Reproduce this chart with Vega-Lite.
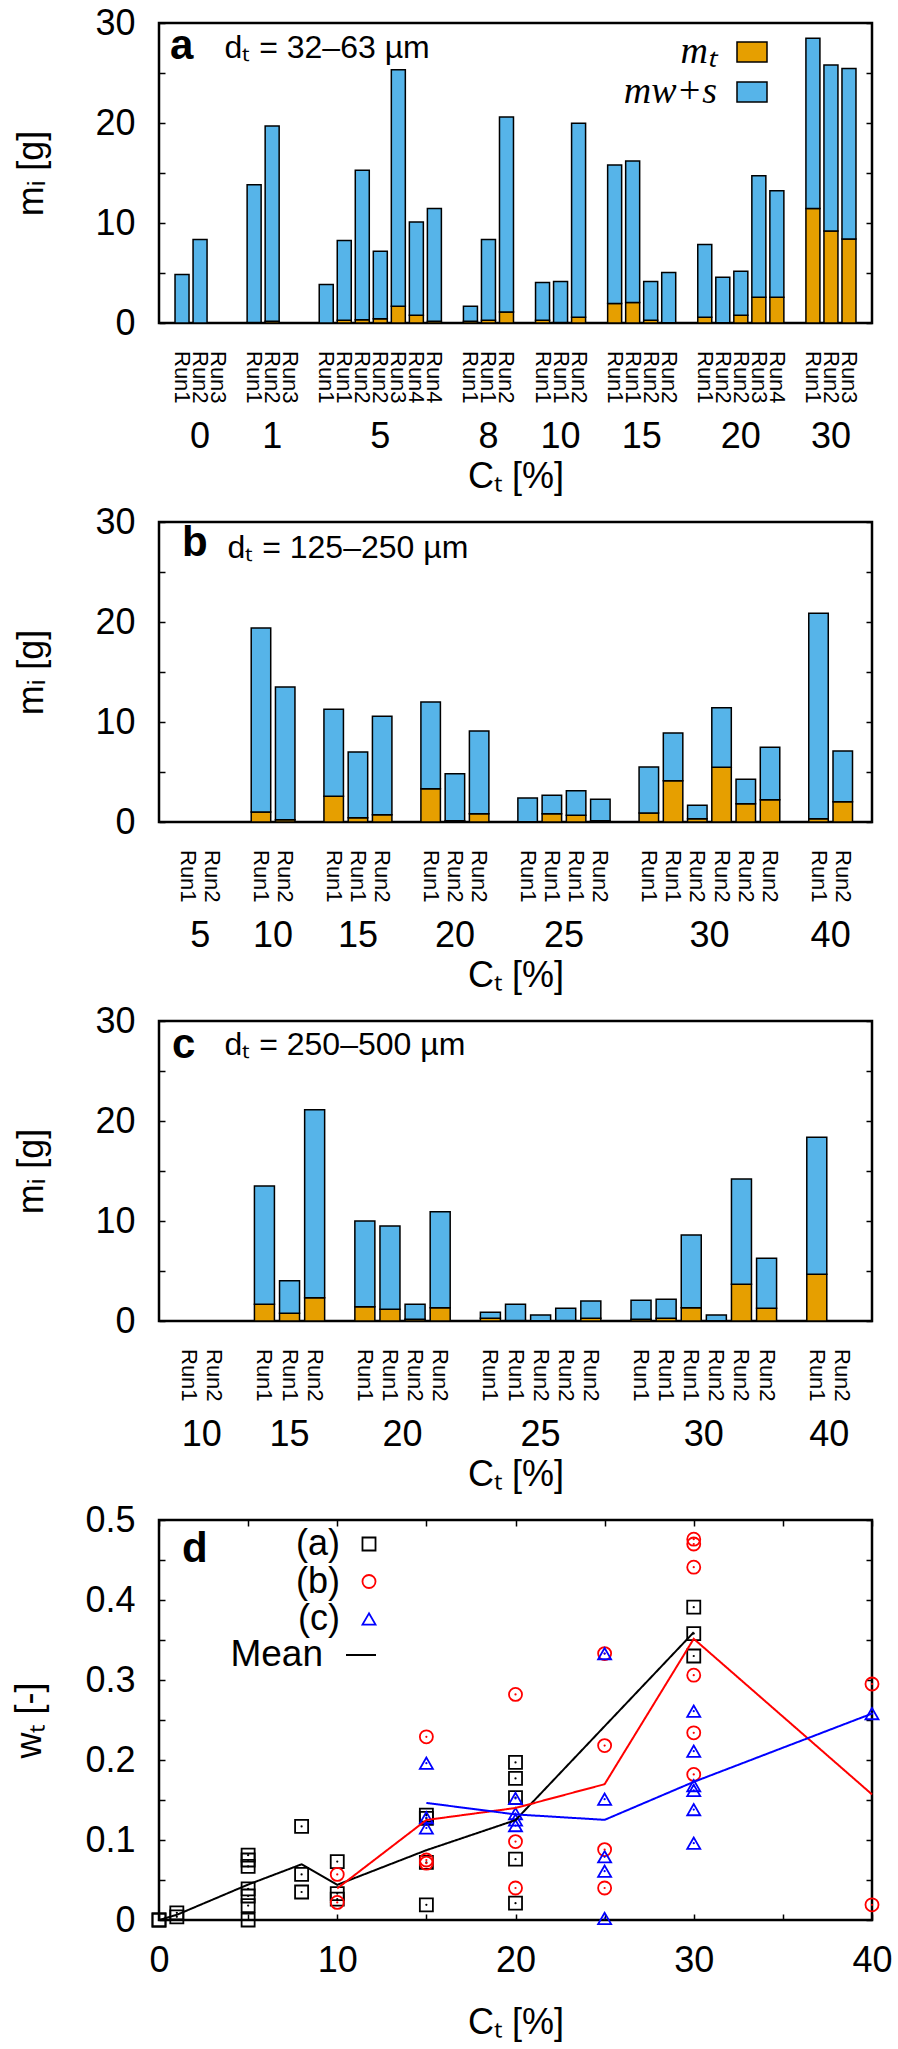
{
  "$schema": "https://vega.github.io/schema/vega-lite/v6.json",
  "background": "white",
  "padding": {"left": 10, "top": 3, "right": 2, "bottom": 5},
  "bounds": "flush",
  "spacing": 199,
  "resolve": {"scale": {"color": "independent", "shape": "independent", "strokeDash": "independent"}},
  "config": {
    "font": "Liberation Sans",
    "view": {"stroke": "black", "strokeWidth": 2.5},
    "axis": {"labelFont": "Liberation Sans", "titleFont": "Liberation Sans", "labelFontSize": 36, "titleFontSize": 36, "titleFontWeight": "normal", "labelColor": "black", "titleColor": "black", "tickColor": "black", "tickWidth": 1.5, "grid": false, "domain": false, "labelFlush": false, "labelOverlap": false, "labelBound": false},
    "text": {"font": "Liberation Sans", "color": "black"},
    "legend": {"labelColor": "black", "padding": 0, "titlePadding": 0},
    "title": {"color": "black", "font": "Liberation Sans"}
  },
  "datasets": {
    "bars": [
      {"panel":"a","group":"0","run":"Run1","slot":0,"mt":0,"mws":4.85},
      {"panel":"a","group":"0","run":"Run2","slot":1,"mt":0,"mws":8.35},
      {"panel":"a","group":"0","run":"Run3","slot":2,"mt":null,"mws":null},
      {"panel":"a","group":"1","run":"Run1","slot":4,"mt":0.05,"mws":13.78},
      {"panel":"a","group":"1","run":"Run2","slot":5,"mt":0.17,"mws":19.54},
      {"panel":"a","group":"1","run":"Run3","slot":6,"mt":null,"mws":null},
      {"panel":"a","group":"5","run":"Run1","slot":8,"mt":0,"mws":3.84},
      {"panel":"a","group":"5","run":"Run1","slot":9,"mt":0.27,"mws":7.98},
      {"panel":"a","group":"5","run":"Run2","slot":10,"mt":0.33,"mws":14.94},
      {"panel":"a","group":"5","run":"Run2","slot":11,"mt":0.43,"mws":6.75},
      {"panel":"a","group":"5","run":"Run3","slot":12,"mt":1.67,"mws":23.66},
      {"panel":"a","group":"5","run":"Run4","slot":13,"mt":0.77,"mws":9.32},
      {"panel":"a","group":"5","run":"Run4","slot":14,"mt":0.17,"mws":11.29},
      {"panel":"a","group":"8","run":"Run1","slot":16,"mt":0.17,"mws":1.5},
      {"panel":"a","group":"8","run":"Run1","slot":17,"mt":0.27,"mws":8.08},
      {"panel":"a","group":"8","run":"Run2","slot":18,"mt":1.1,"mws":19.51},
      {"panel":"a","group":"10","run":"Run1","slot":20,"mt":0.27,"mws":3.77},
      {"panel":"a","group":"10","run":"Run1","slot":21,"mt":0.05,"mws":4.09},
      {"panel":"a","group":"10","run":"Run2","slot":22,"mt":0.57,"mws":19.41},
      {"panel":"a","group":"15","run":"Run1","slot":24,"mt":1.94,"mws":13.86},
      {"panel":"a","group":"15","run":"Run1","slot":25,"mt":2.04,"mws":14.16},
      {"panel":"a","group":"15","run":"Run2","slot":26,"mt":0.27,"mws":3.87},
      {"panel":"a","group":"15","run":"Run2","slot":27,"mt":0.03,"mws":5.01},
      {"panel":"a","group":"20","run":"Run1","slot":29,"mt":0.57,"mws":7.28},
      {"panel":"a","group":"20","run":"Run2","slot":30,"mt":0.03,"mws":4.55},
      {"panel":"a","group":"20","run":"Run2","slot":31,"mt":0.77,"mws":4.41},
      {"panel":"a","group":"20","run":"Run3","slot":32,"mt":2.57,"mws":12.16},
      {"panel":"a","group":"20","run":"Run4","slot":33,"mt":2.57,"mws":10.66},
      {"panel":"a","group":"30","run":"Run1","slot":35,"mt":11.46,"mws":17.01},
      {"panel":"a","group":"30","run":"Run2","slot":36,"mt":9.19,"mws":16.6},
      {"panel":"a","group":"30","run":"Run3","slot":37,"mt":8.39,"mws":17.07},
      {"panel":"b","group":"5","run":"Run1","slot":0,"mt":null,"mws":null},
      {"panel":"b","group":"5","run":"Run2","slot":1,"mt":null,"mws":null},
      {"panel":"b","group":"10","run":"Run1","slot":3,"mt":1.0,"mws":18.4},
      {"panel":"b","group":"10","run":"Run2","slot":4,"mt":0.23,"mws":13.27},
      {"panel":"b","group":"15","run":"Run1","slot":6,"mt":2.57,"mws":8.7},
      {"panel":"b","group":"15","run":"Run1","slot":7,"mt":0.43,"mws":6.57},
      {"panel":"b","group":"15","run":"Run2","slot":8,"mt":0.73,"mws":9.84},
      {"panel":"b","group":"20","run":"Run1","slot":10,"mt":3.33,"mws":8.67},
      {"panel":"b","group":"20","run":"Run2","slot":11,"mt":0.13,"mws":4.7},
      {"panel":"b","group":"20","run":"Run2","slot":12,"mt":0.83,"mws":8.27},
      {"panel":"b","group":"25","run":"Run1","slot":14,"mt":0.03,"mws":2.37},
      {"panel":"b","group":"25","run":"Run1","slot":15,"mt":0.83,"mws":1.84},
      {"panel":"b","group":"25","run":"Run1","slot":16,"mt":0.67,"mws":2.46},
      {"panel":"b","group":"25","run":"Run2","slot":17,"mt":0.13,"mws":2.14},
      {"panel":"b","group":"30","run":"Run1","slot":19,"mt":0.9,"mws":4.6},
      {"panel":"b","group":"30","run":"Run1","slot":20,"mt":4.13,"mws":4.77},
      {"panel":"b","group":"30","run":"Run2","slot":21,"mt":0.33,"mws":1.34},
      {"panel":"b","group":"30","run":"Run2","slot":22,"mt":5.47,"mws":5.96},
      {"panel":"b","group":"30","run":"Run2","slot":23,"mt":1.83,"mws":2.44},
      {"panel":"b","group":"30","run":"Run2","slot":24,"mt":2.23,"mws":5.24},
      {"panel":"b","group":"40","run":"Run1","slot":26,"mt":0.33,"mws":20.54},
      {"panel":"b","group":"40","run":"Run2","slot":27,"mt":2.03,"mws":5.07},
      {"panel":"c","group":"10","run":"Run1","slot":0,"mt":null,"mws":null},
      {"panel":"c","group":"10","run":"Run2","slot":1,"mt":null,"mws":null},
      {"panel":"c","group":"15","run":"Run1","slot":3,"mt":1.67,"mws":11.83},
      {"panel":"c","group":"15","run":"Run1","slot":4,"mt":0.77,"mws":3.26},
      {"panel":"c","group":"15","run":"Run2","slot":5,"mt":2.33,"mws":18.8},
      {"panel":"c","group":"20","run":"Run1","slot":7,"mt":1.43,"mws":8.57},
      {"panel":"c","group":"20","run":"Run1","slot":8,"mt":1.17,"mws":8.33},
      {"panel":"c","group":"20","run":"Run2","slot":9,"mt":0.17,"mws":1.5},
      {"panel":"c","group":"20","run":"Run2","slot":10,"mt":1.33,"mws":9.6},
      {"panel":"c","group":"25","run":"Run1","slot":12,"mt":0.27,"mws":0.6},
      {"panel":"c","group":"25","run":"Run1","slot":13,"mt":0.05,"mws":1.62},
      {"panel":"c","group":"25","run":"Run2","slot":14,"mt":0.03,"mws":0.57},
      {"panel":"c","group":"25","run":"Run2","slot":15,"mt":0.05,"mws":1.22},
      {"panel":"c","group":"25","run":"Run2","slot":16,"mt":0.27,"mws":1.73},
      {"panel":"c","group":"30","run":"Run1","slot":18,"mt":0.17,"mws":1.9},
      {"panel":"c","group":"30","run":"Run1","slot":19,"mt":0.27,"mws":1.9},
      {"panel":"c","group":"30","run":"Run1","slot":20,"mt":1.33,"mws":7.27},
      {"panel":"c","group":"30","run":"Run2","slot":21,"mt":0.02,"mws":0.58},
      {"panel":"c","group":"30","run":"Run2","slot":22,"mt":3.67,"mws":10.53},
      {"panel":"c","group":"30","run":"Run2","slot":23,"mt":1.27,"mws":5.0},
      {"panel":"c","group":"40","run":"Run1","slot":25,"mt":4.67,"mws":13.7},
      {"panel":"c","group":"40","run":"Run2","slot":26,"mt":null,"mws":null}
    ],
    "wt": [
      {"series":"(a)","C":0,"w":0},{"series":"(a)","C":0,"w":0},
      {"series":"(a)","C":1,"w":0.004},{"series":"(a)","C":1,"w":0.009},
      {"series":"(a)","C":5,"w":0.081},{"series":"(a)","C":5,"w":0.075},{"series":"(a)","C":5,"w":0.067},{"series":"(a)","C":5,"w":0.039},{"series":"(a)","C":5,"w":0.030},{"series":"(a)","C":5,"w":0.018},{"series":"(a)","C":5,"w":0.0},
      {"series":"(a)","C":8,"w":0.117},{"series":"(a)","C":8,"w":0.057},{"series":"(a)","C":8,"w":0.035},
      {"series":"(a)","C":10,"w":0.073},{"series":"(a)","C":10,"w":0.033},{"series":"(a)","C":10,"w":0.026},
      {"series":"(a)","C":15,"w":0.131},{"series":"(a)","C":15,"w":0.127},{"series":"(a)","C":15,"w":0.072},{"series":"(a)","C":15,"w":0.019},
      {"series":"(a)","C":20,"w":0.197},{"series":"(a)","C":20,"w":0.177},{"series":"(a)","C":20,"w":0.153},{"series":"(a)","C":20,"w":0.076},{"series":"(a)","C":20,"w":0.021},
      {"series":"(a)","C":30,"w":0.391},{"series":"(a)","C":30,"w":0.358},{"series":"(a)","C":30,"w":0.330},
      {"series":"(b)","C":10,"w":0.057},{"series":"(b)","C":10,"w":0.022},
      {"series":"(b)","C":15,"w":0.229},{"series":"(b)","C":15,"w":0.075},{"series":"(b)","C":15,"w":0.071},
      {"series":"(b)","C":20,"w":0.282},{"series":"(b)","C":20,"w":0.098},{"series":"(b)","C":20,"w":0.040},
      {"series":"(b)","C":25,"w":0.333},{"series":"(b)","C":25,"w":0.218},{"series":"(b)","C":25,"w":0.088},{"series":"(b)","C":25,"w":0.040},
      {"series":"(b)","C":30,"w":0.476},{"series":"(b)","C":30,"w":0.470},{"series":"(b)","C":30,"w":0.441},{"series":"(b)","C":30,"w":0.306},{"series":"(b)","C":30,"w":0.234},{"series":"(b)","C":30,"w":0.182},
      {"series":"(b)","C":40,"w":0.295},{"series":"(b)","C":40,"w":0.019},
      {"series":"(c)","C":15,"w":0.196},{"series":"(c)","C":15,"w":0.128},{"series":"(c)","C":15,"w":0.115},
      {"series":"(c)","C":20,"w":0.152},{"series":"(c)","C":20,"w":0.133},{"series":"(c)","C":20,"w":0.125},{"series":"(c)","C":20,"w":0.118},
      {"series":"(c)","C":25,"w":0.333},{"series":"(c)","C":25,"w":0.151},{"series":"(c)","C":25,"w":0.079},{"series":"(c)","C":25,"w":0.061},{"series":"(c)","C":25,"w":0.002},
      {"series":"(c)","C":30,"w":0.261},{"series":"(c)","C":30,"w":0.211},{"series":"(c)","C":30,"w":0.168},{"series":"(c)","C":30,"w":0.162},{"series":"(c)","C":30,"w":0.138},{"series":"(c)","C":30,"w":0.096},
      {"series":"(c)","C":40,"w":0.258}
    ]
  },
  "vconcat": [
    {
      "width": 713, "height": 300,
      "data": {"name": "bars"},
      "title": {"text": "a", "anchor": "start", "frame": "group", "offset": -63, "dx": 11, "fontSize": 42, "fontWeight": "bold"},
      "transform": [{"filter": "datum.panel === 'a'"}],
      "resolve": {"axis": {"x": "independent", "y": "independent"}},
      "layer": [
        {
          "transform": [{"fold": ["mt", "mws"], "as": ["component", "mass"]}],
          "mark": {"type": "bar", "width": 14, "stroke": "black", "strokeWidth": 1.5},
          "encoding": {
            "x": {"field": "slot", "type": "quantitative", "scale": {"domain": [-1, 38], "nice": false, "zero": false}, "axis": {"title": "Cₜ [%]", "labels": false, "ticks": false, "titlePadding": 136}},
            "y": {"field": "mass", "type": "quantitative", "stack": "zero", "scale": {"domain": [0, 30], "nice": false}, "axis": {"title": "mᵢ [g]", "values": [0,5,10,15,20,25,30], "labelExpr": "datum.value % 10 === 0 ? datum.label : ''", "tickSize": -6, "labelPadding": 30, "titlePadding": 44}},
            "color": {"field": "component", "type": "nominal", "scale": {"domain": ["mt", "mws"], "range": ["#E69F00", "#56B4E9"]},
              "legend": {"orient": "none", "legendX": 574, "legendY": 10, "title": null, "direction": "vertical", "labelAlign": "right", "labelOffset": -54, "symbolType": "M-1,-0.667H1V0.667H-1Z", "symbolSize": 900, "symbolStrokeColor": "black", "symbolStrokeWidth": 1.5, "labelFontSize": 38, "labelFont": "Liberation Serif", "labelFontStyle": "italic", "rowPadding": 2, "labelExpr": "datum.value == 'mt' ? 'mₜ' : 'mw+s'"}},
            "order": {"field": "component", "sort": "ascending"}
          }
        },
        {
          "mark": {"type": "text", "angle": 90, "align": "left", "baseline": "middle", "dx": 28, "fontSize": 22},
          "encoding": {
            "x": {"field": "slot", "type": "quantitative", "axis": null},
            "y": {"datum": 0, "type": "quantitative", "axis": {"orient": "right", "values": [0,5,10,15,20,25,30], "labels": false, "tickSize": -6, "title": "dₜ = 32–63 µm", "titleX": -648, "titleY": 34, "titleAngle": 0, "titleAlign": "left", "titleBaseline": "alphabetic", "titleFontSize": 32}},
            "text": {"field": "run"}
          }
        },
        {
          "mark": {"type": "text", "align": "center", "baseline": "middle", "dy": 114, "fontSize": 36},
          "encoding": {
            "x": {"aggregate": "mean", "field": "slot", "type": "quantitative", "axis": null},
            "y": {"datum": 0, "type": "quantitative", "axis": null},
            "text": {"field": "group"}
          }
        }
      ]
    },
    {
      "width": 713, "height": 300,
      "data": {"name": "bars"},
      "title": {"text": "b", "anchor": "start", "frame": "group", "offset": -61, "dx": 23, "fontSize": 42, "fontWeight": "bold"},
      "transform": [{"filter": "datum.panel === 'b'"}],
      "resolve": {"axis": {"x": "independent", "y": "independent"}},
      "layer": [
        {
          "transform": [{"fold": ["mt", "mws"], "as": ["component", "mass"]}],
          "mark": {"type": "bar", "width": 19.5, "stroke": "black", "strokeWidth": 1.5},
          "encoding": {
            "x": {"field": "slot", "type": "quantitative", "scale": {"domain": [-1, 28], "nice": false, "zero": false}, "axis": {"title": "Cₜ [%]", "labels": false, "ticks": false, "titlePadding": 136}},
            "y": {"field": "mass", "type": "quantitative", "stack": "zero", "scale": {"domain": [0, 30], "nice": false}, "axis": {"title": "mᵢ [g]", "values": [0,5,10,15,20,25,30], "labelExpr": "datum.value % 10 === 0 ? datum.label : ''", "tickSize": -6, "labelPadding": 30, "titlePadding": 44}},
            "color": {"field": "component", "type": "nominal", "scale": {"domain": ["mt", "mws"], "range": ["#E69F00", "#56B4E9"]}, "legend": null},
            "order": {"field": "component", "sort": "ascending"}
          }
        },
        {
          "mark": {"type": "text", "angle": 90, "align": "left", "baseline": "middle", "dx": 28, "fontSize": 22},
          "encoding": {
            "x": {"field": "slot", "type": "quantitative", "axis": null},
            "y": {"datum": 0, "type": "quantitative", "axis": {"orient": "right", "values": [0,5,10,15,20,25,30], "labels": false, "tickSize": -6, "title": "dₜ = 125–250 µm", "titleX": -645, "titleY": 35, "titleAngle": 0, "titleAlign": "left", "titleBaseline": "alphabetic", "titleFontSize": 32}},
            "text": {"field": "run"}
          }
        },
        {
          "mark": {"type": "text", "align": "center", "baseline": "middle", "dy": 114, "fontSize": 36},
          "encoding": {
            "x": {"aggregate": "mean", "field": "slot", "type": "quantitative", "axis": null},
            "y": {"datum": 0, "type": "quantitative", "axis": null},
            "text": {"field": "group"}
          }
        }
      ]
    },
    {
      "width": 713, "height": 300,
      "data": {"name": "bars"},
      "title": {"text": "c", "anchor": "start", "frame": "group", "offset": -64, "dx": 13, "fontSize": 42, "fontWeight": "bold"},
      "transform": [{"filter": "datum.panel === 'c'"}],
      "resolve": {"axis": {"x": "independent", "y": "independent"}},
      "layer": [
        {
          "transform": [{"fold": ["mt", "mws"], "as": ["component", "mass"]}],
          "mark": {"type": "bar", "width": 20, "stroke": "black", "strokeWidth": 1.5},
          "encoding": {
            "x": {"field": "slot", "type": "quantitative", "scale": {"domain": [-1, 27], "nice": false, "zero": false}, "axis": {"title": "Cₜ [%]", "labels": false, "ticks": false, "titlePadding": 136}},
            "y": {"field": "mass", "type": "quantitative", "stack": "zero", "scale": {"domain": [0, 30], "nice": false}, "axis": {"title": "mᵢ [g]", "values": [0,5,10,15,20,25,30], "labelExpr": "datum.value % 10 === 0 ? datum.label : ''", "tickSize": -6, "labelPadding": 30, "titlePadding": 44}},
            "color": {"field": "component", "type": "nominal", "scale": {"domain": ["mt", "mws"], "range": ["#E69F00", "#56B4E9"]}, "legend": null},
            "order": {"field": "component", "sort": "ascending"}
          }
        },
        {
          "mark": {"type": "text", "angle": 90, "align": "left", "baseline": "middle", "dx": 28, "fontSize": 22},
          "encoding": {
            "x": {"field": "slot", "type": "quantitative", "axis": null},
            "y": {"datum": 0, "type": "quantitative", "axis": {"orient": "right", "values": [0,5,10,15,20,25,30], "labels": false, "tickSize": -6, "title": "dₜ = 250–500 µm", "titleX": -648, "titleY": 33, "titleAngle": 0, "titleAlign": "left", "titleBaseline": "alphabetic", "titleFontSize": 32}},
            "text": {"field": "run"}
          }
        },
        {
          "mark": {"type": "text", "align": "center", "baseline": "middle", "dy": 114, "fontSize": 36},
          "encoding": {
            "x": {"aggregate": "mean", "field": "slot", "type": "quantitative", "axis": null},
            "y": {"datum": 0, "type": "quantitative", "axis": null},
            "text": {"field": "group"}
          }
        }
      ]
    },
    {
      "width": 713, "height": 400,
      "data": {"name": "wt"},
      "title": {"text": "d", "anchor": "start", "frame": "group", "offset": -69, "dx": 23, "fontSize": 42, "fontWeight": "bold"},
      "resolve": {"axis": {"x": "independent", "y": "independent"}},
      "layer": [
        {
          "mark": {"type": "point", "filled": false, "strokeWidth": 1.8, "size": 170, "opacity": 1},
          "encoding": {
            "x": {"field": "C", "type": "quantitative", "scale": {"domain": [0, 40], "nice": false, "zero": false}, "axis": {"title": "Cₜ [%]", "values": [0,5,10,15,20,25,30,35,40], "labelExpr": "datum.value % 10 === 0 ? datum.label : ''", "tickSize": -6, "labelPadding": 29, "labelDx": 4, "titlePadding": 27}},
            "y": {"field": "w", "type": "quantitative", "scale": {"domain": [0, 0.5], "nice": false}, "axis": {"title": "wₜ [-]", "values": [0,0.05,0.1,0.15,0.2,0.25,0.3,0.35,0.4,0.45,0.5], "labelExpr": "abs(datum.value*10 - round(datum.value*10)) < 0.001 ? format(datum.value, '~g') : ''", "tickSize": -6, "labelPadding": 30, "titlePadding": 36}},
            "color": {"field": "series", "type": "nominal", "scale": {"domain": ["(a)", "(b)", "(c)"], "range": ["#000000", "#ff0000", "#0000ff"]},
              "legend": {"orient": "none", "legendX": 192, "legendY": 6, "title": null, "direction": "vertical", "labelAlign": "right", "labelOffset": -47, "symbolSize": 170, "symbolStrokeWidth": 1.8, "symbolFillColor": "transparent", "labelFontSize": 36, "labelFont": "Liberation Sans", "rowPadding": 1.5}},
            "shape": {"field": "series", "type": "nominal", "scale": {"domain": ["(a)", "(b)", "(c)"], "range": ["square", "circle", "triangle-up"]},
              "legend": {"orient": "none", "legendX": 192, "legendY": 6, "title": null, "direction": "vertical", "labelAlign": "right", "labelOffset": -47, "symbolSize": 170, "symbolStrokeWidth": 1.8, "symbolFillColor": "transparent", "labelFontSize": 36, "labelFont": "Liberation Sans", "rowPadding": 1.5}}
          }
        },
        {
          "mark": {"type": "point", "filled": true, "size": 5, "shape": "circle", "opacity": 1, "strokeWidth": 0},
          "encoding": {
            "x": {"field": "C", "type": "quantitative", "axis": {"orient": "top", "values": [0,5,10,15,20,25,30,35,40], "labels": false, "tickSize": -6, "title": null}},
            "y": {"field": "w", "type": "quantitative", "axis": {"orient": "right", "values": [0,0.05,0.1,0.15,0.2,0.25,0.3,0.35,0.4,0.45,0.5], "labels": false, "tickSize": -6, "title": null}},
            "fill": {"field": "series", "type": "nominal", "scale": {"domain": ["(a)", "(b)", "(c)"], "range": ["#000000", "#ff0000", "#0000ff"]}, "legend": null}
          }
        },
        {
          "mark": {"type": "line", "strokeWidth": 2},
          "encoding": {
            "x": {"field": "C", "type": "quantitative", "axis": null},
            "y": {"aggregate": "mean", "field": "w", "type": "quantitative", "axis": null},
            "stroke": {"field": "series", "type": "nominal", "scale": {"domain": ["(a)", "(b)", "(c)"], "range": ["#000000", "#ff0000", "#0000ff"]}, "legend": null},
            "strokeDash": {"datum": "Mean", "type": "nominal", "scale": {"range": [[1, 0]]},
              "legend": {"orient": "none", "legendX": 183.5, "legendY": 116.5, "title": null, "labelAlign": "right", "labelOffset": -56.5, "symbolType": "stroke", "symbolSize": 900, "symbolStrokeColor": "black", "symbolStrokeWidth": 2, "labelFontSize": 37, "labelFont": "Liberation Sans"}}
          }
        }
      ]
    }
  ]
}
